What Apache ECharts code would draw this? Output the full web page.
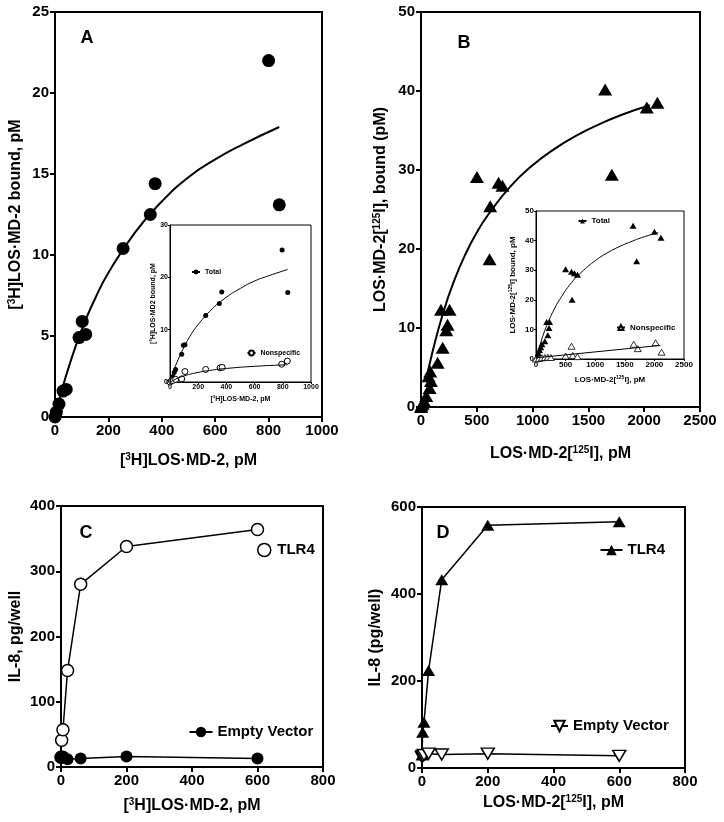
<!DOCTYPE html>
<html><head><meta charset="utf-8">
<script src="https://cdn.jsdelivr.net/npm/echarts@6/dist/echarts.min.js"></script>
<style>html,body{margin:0;padding:0;background:#fff}#c{width:724px;height:822px}</style>
</head><body><div id="c"></div>
<script>
// ---- Panel A (main): [3H]LOS·MD-2 specific binding ----
const aX = [0, 5, 15, 30, 42, 90, 102, 115, 255, 357, 375, 800, 840];
const aY = [0, 0.3, 0.8, 1.6, 1.7, 4.9, 5.9, 5.1, 10.4, 12.5, 14.4, 22.0, 13.1];
const aFitX = [0, 25, 50, 100, 150, 200, 300, 400, 500, 600, 700, 840];
const aFitY = [0, 1.6, 3.0, 5.4, 7.3, 8.9, 11.4, 13.3, 14.8, 15.9, 16.8, 17.9];
// ---- Panel A (inset) ----
const iaTotX = [0, 10, 20, 30, 40, 83, 95, 106, 253, 350, 367, 795, 835];
const iaTotY = [0, 0.5, 1.0, 1.8, 2.4, 5.3, 7.0, 7.1, 12.7, 15.0, 17.2, 25.2, 17.1];
const iaTotFitX = [0, 25, 50, 100, 150, 200, 300, 400, 500, 600, 700, 835];
const iaTotFitY = [0, 2.0, 3.8, 6.7, 9.1, 11.0, 14.0, 16.2, 17.9, 19.3, 20.3, 21.5];
const iaNsX = [0, 10, 20, 40, 83, 106, 253, 355, 370, 792, 832];
const iaNsY = [0, 0.2, 0.3, 0.5, 0.6, 2.0, 2.4, 2.7, 2.8, 3.4, 4.0];
const iaNsFitX = [0, 50, 100, 200, 300, 400, 600, 830];
const iaNsFitY = [0, 0.67, 1.17, 1.84, 2.28, 2.59, 3.0, 3.29];
// ---- Panel B (main) ----
const bX = [0, 5, 15, 30, 47, 68, 77, 83, 89, 149, 194, 226, 238, 179, 256, 501, 614, 620, 695, 730, 1650, 1710, 2023, 2118];
const bY = [0, 0.2, 0.4, 0.7, 1.4, 3.9, 2.4, 4.5, 3.3, 5.6, 7.5, 9.7, 10.4, 12.3, 12.3, 29.1, 18.7, 25.4, 28.4, 28.0, 40.2, 29.4, 37.9, 38.5];
const bFitX = [45, 100, 200, 300, 400, 500, 600, 800, 1000, 1200, 1400, 1600, 1800, 2050];
const bFitY = [3.3, 6.8, 12.0, 16.1, 19.4, 22.1, 24.3, 27.9, 30.6, 32.7, 34.4, 35.8, 37.0, 38.2];
// ---- Panel B (inset) ----
const ibTotX = [0, 10, 30, 40, 60, 80, 100, 150, 200, 220, 180, 230, 500, 600, 610, 650, 700, 1640, 1700, 2000, 2110];
const ibTotY = [0, 0.5, 1, 2, 3, 4, 5, 6, 8, 10.5, 12.5, 12.5, 30.3, 29.5, 20, 29, 28.5, 45, 33, 43, 41];
const ibTotFitX = [0, 100, 200, 300, 400, 600, 800, 1000, 1200, 1400, 1600, 1800, 2065];
const ibTotFitY = [0, 6.8, 12.2, 16.5, 20.1, 25.8, 29.9, 33.2, 35.8, 37.9, 39.6, 41.1, 42.7];
const ibNsX = [0, 50, 100, 150, 200, 250, 500, 600, 620, 700, 1650, 1720, 2020, 2120];
const ibNsY = [0, 0.2, 0.4, 0.5, 0.6, 0.5, 1.0, 4.3, 1.2, 0.8, 5.0, 3.5, 5.5, 2.3];
const ibNsFitX = [0, 2100];
const ibNsFitY = [0.4, 4.6];
// ---- Panel C ----
const cX = [0, 2, 6, 20, 60, 200, 600];
const cTlr4 = [15, 41, 57, 148, 280, 338, 364];
const cEv = [15, 14, 16, 12, 13, 16, 13];
// ---- Panel D ----
const dX = [0, 2, 6, 20, 60, 200, 600];
const dTlr4 = [30, 82, 105, 224, 433, 558, 566];
const dEv = [25, 28, 30, 33, 31, 33, 28];

const FF = '"Liberation Sans", Arial, sans-serif';
const pairs = (xs, ys) => xs.map((x, i) => [x, ys[i]]);
const H3 = '{n|[}{s|3}{n|H]LOS·MD-2, pM}';
const I125 = '{n|LOS·MD-2[}{s|125}{n|I], pM}';

function axis(gridIndex, min, max, interval, name, nameGap, small, fs) {
  const f = small ? (fs || 7) : 16;
  return {
    gridIndex, type: 'value', min, max, interval,
    name, nameLocation: 'middle', nameGap,
    nameTextStyle: {fontFamily: FF, fontWeight: 'bold', fontSize: f, color: '#000',
      rich: {
        n: {fontFamily: FF, fontWeight: 'bold', fontSize: f, color: '#000', lineHeight: Math.round(f * 1.15)},
        s: {fontFamily: FF, fontWeight: 'bold', fontSize: Math.round(f * 0.62), color: '#000', lineHeight: Math.round(f * 0.62), verticalAlign: 'top'}
      }},
    axisLine: {show: true, onZero: false, lineStyle: {color: '#000', width: small ? 1 : 2}},
    axisTick: {show: true, length: small ? 2 : 5, lineStyle: {color: '#000', width: small ? 1 : 2}},
    axisLabel: {fontFamily: FF, fontWeight: 'bold', fontSize: small ? (fs || 7) : 15, color: '#000', margin: small ? 2 : 6,
      formatter: v => String(v)},
    splitLine: {show: false}
  };
}
function grid(left, top, width, height, small) {
  return {left, top, width, height, show: true, borderColor: '#000', borderWidth: small ? 1 : 2,
    backgroundColor: small ? '#fff' : 'transparent', containLabel: false};
}
function leg(name, left, top, iw, ih, fs, extra) {
  return {
    data: [Object.assign({name}, extra || {})], left, top, orient: 'horizontal',
    itemWidth: iw, itemHeight: ih, padding: 0, itemGap: 0, selectedMode: false,
    formatter: n => n.replace(/ [A-D]$/, ''),
    textStyle: {fontFamily: FF, fontWeight: 'bold', fontSize: fs, color: '#000'}
  };
}
const fit = (xi, yi, name, data, w, sym, extra) => Object.assign({
  type: 'line', name, xAxisIndex: xi, yAxisIndex: yi, data, smooth: true,
  showSymbol: false, symbol: sym || 'none', lineStyle: {color: '#000', width: w},
  itemStyle: {color: '#000'}, silent: true
}, extra || {});
const pts = (xi, yi, name, data, symbol, size, style) => ({
  type: 'scatter', name, xAxisIndex: xi, yAxisIndex: yi, data, symbol, symbolSize: size,
  itemStyle: Object.assign({color: '#000', opacity: 1}, style || {}), silent: true
});

const chart = echarts.init(document.getElementById('c'));
chart.setOption({
  animation: false,
  backgroundColor: '#fff',
  grid: [
    grid(55, 12, 267, 405),
    grid(170, 225, 141, 157, true),
    grid(421, 12, 279, 395),
    grid(536, 211, 148, 148, true),
    grid(61, 506, 262, 261),
    grid(422, 507, 263, 261)
  ],
  xAxis: [
    axis(0, 0, 1000, 200, H3, 35),
    axis(1, 0, 1000, 200, H3, 13, true, 7),
    axis(2, 0, 2500, 500, I125, 38),
    axis(3, 0, 2500, 500, I125, 16, true, 8),
    axis(4, 0, 800, 200, H3, 30),
    axis(5, 0, 800, 200, I125, 26)
  ],
  yAxis: [
    axis(0, 0, 25, 5, '{n|[}{s|3}{n|H]LOS·MD-2 bound, pM}', 30),
    axis(1, 0, 30, 10, '{n|[}{s|3}{n|H]LOS·MD2 bound, pM}', 13, true, 7),
    axis(2, 0, 50, 10, '{n|LOS·MD-2[}{s|125}{n|I], bound (pM)}', 31),
    axis(3, 0, 50, 10, '{n|LOS·MD-2[}{s|125}{n|I] bound, pM}', 19, true, 8),
    axis(4, 0, 400, 100, '{n|IL-8, pg/well}', 36),
    axis(5, 0, 600, 200, '{n|IL-8 (pg/well)}', 37)
  ],
  legend: [
    leg('Total A', 191, 268.5, 8, 6, 7),
    leg('Nonspecific A', 246.5, 349.5, 8, 6, 7),
    leg('Total B', 577.5, 217, 8, 6, 8),
    leg('Nonspecific B', 616, 323.5, 8, 6, 8),
    leg('TLR4 C', 257, 542.5, 16, 13, 15, {icon: 'circle', itemStyle: {color: '#fff', borderColor: '#000', borderWidth: 1.5}}),
    leg('Empty Vector C', 188.5, 724.5, 23, 13, 15),
    leg('TLR4 D', 599.5, 542.5, 22, 13, 15),
    leg('Empty Vector D', 550, 718.5, 17, 13, 15)
  ],
  graphic: [
    {type: 'text', x: 87, y: 38, style: {text: 'A', align: 'center', verticalAlign: 'middle', font: 'bold 18px ' + FF, fill: '#000'}},
    {type: 'text', x: 464, y: 43, style: {text: 'B', align: 'center', verticalAlign: 'middle', font: 'bold 18px ' + FF, fill: '#000'}},
    {type: 'text', x: 86, y: 533, style: {text: 'C', align: 'center', verticalAlign: 'middle', font: 'bold 18px ' + FF, fill: '#000'}},
    {type: 'text', x: 443, y: 533, style: {text: 'D', align: 'center', verticalAlign: 'middle', font: 'bold 18px ' + FF, fill: '#000'}}
  ],
  series: [
    // A main
    fit(0, 0, 'A fit', pairs(aFitX, aFitY), 2),
    pts(0, 0, 'A pts', pairs(aX, aY), 'circle', 13),
    // A inset
    fit(1, 1, 'Total A', pairs(iaTotFitX, iaTotFitY), 1, 'circle'),
    fit(1, 1, 'Nonspecific A', pairs(iaNsFitX, iaNsFitY), 1, 'emptyCircle'),
    pts(1, 1, 'Total A pts', pairs(iaTotX, iaTotY), 'circle', 5),
    pts(1, 1, 'Nonspecific A pts', pairs(iaNsX, iaNsY), 'circle', 6, {color: '#fff', borderColor: '#000', borderWidth: 1}),
    // B main
    fit(2, 2, 'B fit', pairs(bFitX, bFitY), 2),
    pts(2, 2, 'B pts', pairs(bX, bY), 'triangle', [14, 12]),
    // B inset
    fit(3, 3, 'Total B', pairs(ibTotFitX, ibTotFitY), 1, 'triangle'),
    fit(3, 3, 'Nonspecific B', pairs(ibNsFitX, ibNsFitY), 1, 'emptyTriangle', {smooth: false}),
    pts(3, 3, 'Total B pts', pairs(ibTotX, ibTotY), 'triangle', [7, 6]),
    pts(3, 3, 'Nonspecific B pts', pairs(ibNsX, ibNsY), 'triangle', [7, 6], {color: '#fff', borderColor: '#000', borderWidth: 0.8}),
    // C
    {type: 'line', name: 'TLR4 C', xAxisIndex: 4, yAxisIndex: 4, data: pairs(cX, cTlr4), symbol: 'circle', symbolSize: 12, showAllSymbol: true,
      lineStyle: {color: '#000', width: 1.5}, itemStyle: {color: '#fff', borderColor: '#000', borderWidth: 1.5}},
    {type: 'line', name: 'Empty Vector C', xAxisIndex: 4, yAxisIndex: 4, data: pairs(cX, cEv), symbol: 'circle', symbolSize: 12, showAllSymbol: true,
      lineStyle: {color: '#000', width: 1.5}, itemStyle: {color: '#000'}},
    // D
    {type: 'line', name: 'TLR4 D', xAxisIndex: 5, yAxisIndex: 5, data: pairs(dX, dTlr4), symbol: 'triangle', symbolSize: [13, 11], showAllSymbol: true,
      lineStyle: {color: '#000', width: 1.5}, itemStyle: {color: '#000'}},
    {type: 'line', name: 'Empty Vector D', xAxisIndex: 5, yAxisIndex: 5, data: pairs(dX, dEv), symbol: 'triangle', symbolRotate: 180, symbolSize: [13, 11], showAllSymbol: true,
      lineStyle: {color: '#000', width: 1.5}, itemStyle: {color: '#fff', borderColor: '#000', borderWidth: 1.5}}
  ]
});
</script></body></html>
